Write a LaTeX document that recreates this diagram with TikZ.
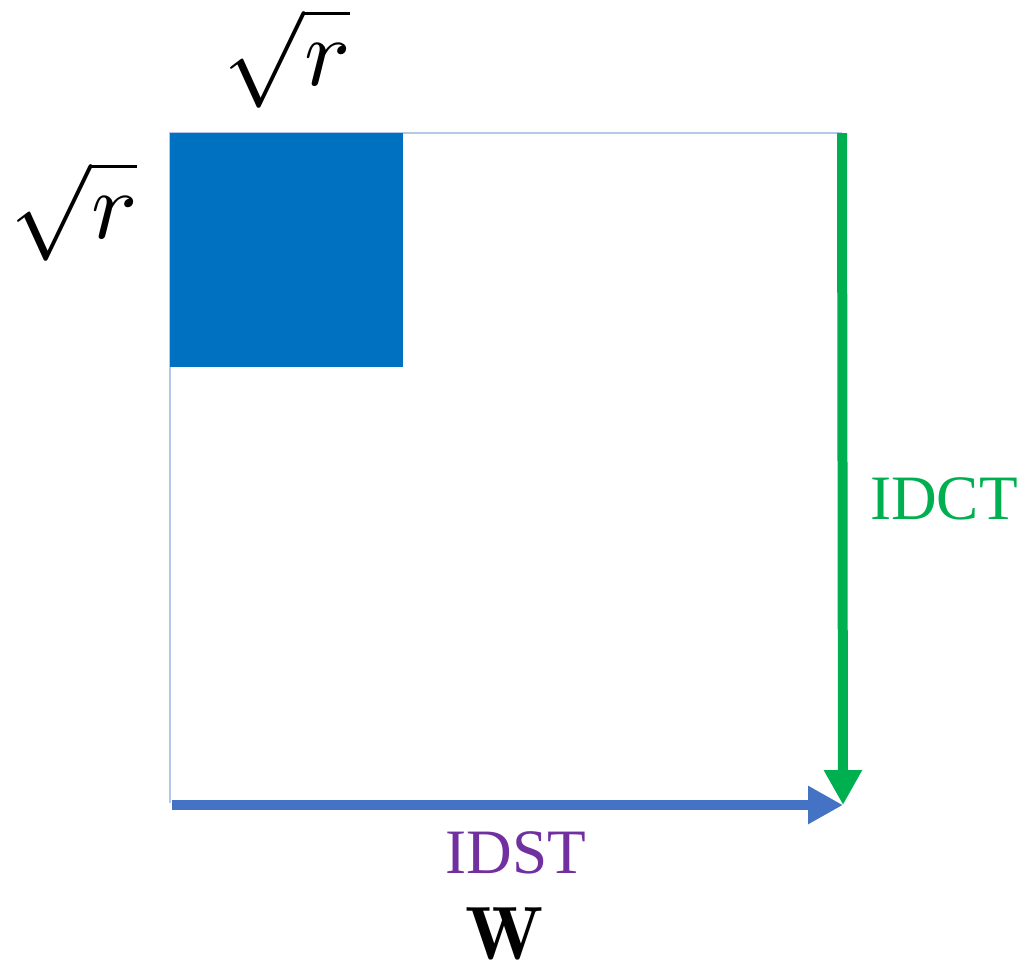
\documentclass[tikz,border=0pt]{standalone}
\usepackage{amsmath}
\usepackage{fontspec}
\usepackage{xcolor}
\usepackage{tikz}
\usetikzlibrary{
	arrows.meta,
	positioning
}
\newfontfamily\labelfont{Liberation Serif}
\definecolor{FrameBlue}{RGB}{180,199,231}
\definecolor{BlockBlue}{RGB}{0,112,192}
\definecolor{ArrowBlue}{RGB}{68,114,196}
\definecolor{ArrowGreen}{RGB}{0,176,80}
\definecolor{TextPurple}{RGB}{112,48,160}

\begin{document}
\begin{tikzpicture}[x=0.02cm, y=-0.02cm,
		thickarrow/.style={line width=0.2cm, -{Triangle[length=0.7cm, width=0.72cm]}},
		translabel/.style={font=\labelfont\fontsize{36}{40}\selectfont, inner sep=0pt}]
			\useasboundingbox (0,0) rectangle (1024,965);
			\coordinate (TL) at (170,133);
			\coordinate (TR) at (842,133);
			\coordinate (BL) at (172,805);
			\coordinate (BR) at (843,805);
			\coordinate (K) at (403,367);
			% matrix frame and the kept low-frequency block
			\draw[FrameBlue, line width=1.2pt] (170,803) -- (TL) -- (TR);
			\fill[BlockBlue] (TL) rectangle (K);
			% inverse transforms
			\draw[thickarrow, ArrowGreen] (TR) -- (BR);
			\draw[thickarrow, ArrowBlue] (BL) -- (BR);
			\node[scale=5.5, inner sep=0pt] (rtop) at (287,58) {$\sqrt{r}$};
			\node[scale=5.5, inner sep=0pt] (rleft) at (74,211) {$\sqrt{r}$};
			\node[translabel, text=ArrowGreen] (idct) at (944,499) {IDCT};
			\node[translabel, text=TextPurple] (idst) at (516,853) {IDST};
			\node[font=\fontsize{43}{48}\selectfont, inner sep=0pt] (W) at (505,934) {$\mathbf{W}$};
		\end{tikzpicture}
\end{document}
